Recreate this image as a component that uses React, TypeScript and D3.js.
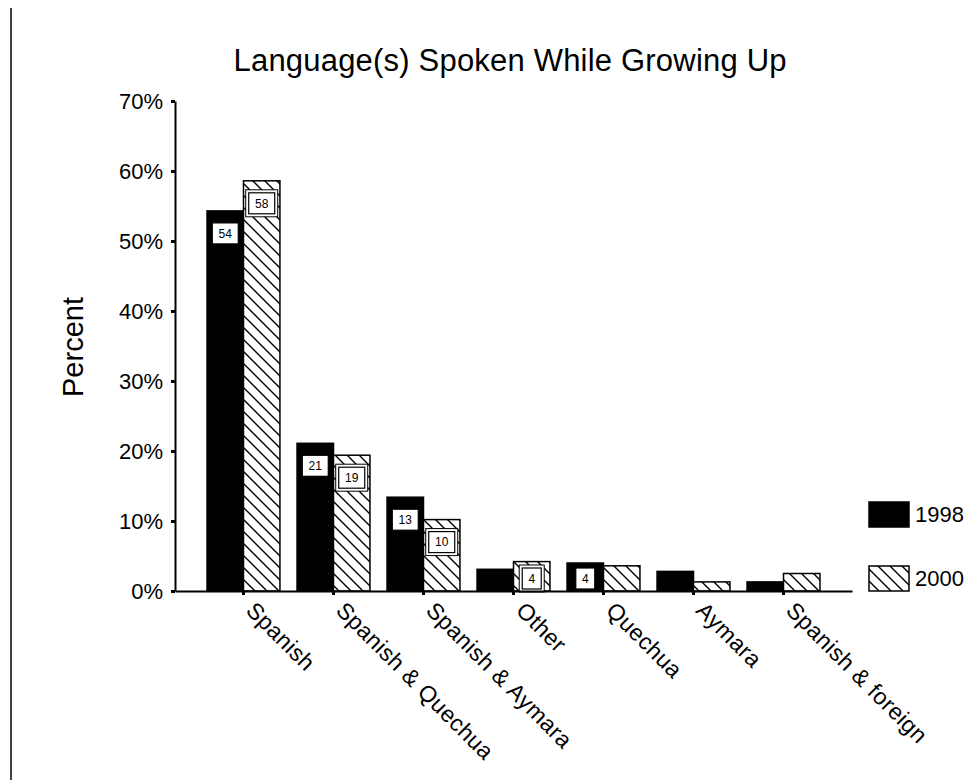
import * as d3 from "d3";
import React, { useRef, useEffect } from "react";

const categories = [
  "Spanish",
  "Spanish & Quechua",
  "Spanish & Aymara",
  "Other",
  "Quechua",
  "Aymara",
  "Spanish & foreign",
];
const years = ["1998", "2000"];
const values1998 = [54.3, 21.1, 13.4, 3.1, 4.0, 2.8, 1.3];
const values2000 = [58.6, 19.4, 10.2, 4.2, 3.6, 1.3, 2.5];
const labels1998 = ["54", "21", "13", "", "4", "", ""];
const labels2000 = ["58", "19", "10", "4", "", "", ""];
const yTicks = [0, 10, 20, 30, 40, 50, 60, 70];

const WIDTH = 974;
const HEIGHT = 780;
const FONT = "'Liberation Sans', Arial, sans-serif";

interface BarDatum {
  category: string;
  year: string;
  value: number;
  label: string;
}

const App = () => {
  const svgRef = useRef<SVGSVGElement>(null);

  useEffect(() => {
    draw();
  }, []);

  const draw = () => {
    if (svgRef.current === null) return;
    const svg = d3.select(svgRef.current);
    svg.selectAll("*").remove();

    const x = d3
      .scaleBand()
      .domain(categories)
      .range([175, 852])
      .paddingInner(0.19)
      .paddingOuter(0.356);
    const xSub = d3.scaleBand().domain(years).range([0, x.bandwidth()]);
    const y = d3.scaleLinear().domain([0, 70]).range([591, 101]);

    // hatch pattern
    const defs = svg.append("defs");
    const pat = defs
      .append("pattern")
      .attr("id", "hatch")
      .attr("patternUnits", "userSpaceOnUse")
      .attr("width", 12)
      .attr("height", 12);
    pat.append("rect").attr("width", 12).attr("height", 12).attr("fill", "white");
    pat
      .append("path")
      .attr("d", "M-3,-3 L15,15 M-3,9 L3,15 M9,-3 L15,3")
      .attr("stroke", "black")
      .attr("stroke-width", 1.4);

    // page border line at left
    svg
      .append("line")
      .attr("x1", 11)
      .attr("x2", 11)
      .attr("y1", 8)
      .attr("y2", HEIGHT)
      .attr("stroke", "black")
      .attr("stroke-width", 1.5);

    // title
    svg
      .append("text")
      .attr("x", 510)
      .attr("y", 71)
      .attr("text-anchor", "middle")
      .attr("font-family", FONT)
      .attr("font-size", 31)
      .attr("textLength", 553)
      .text("Language(s) Spoken While Growing Up");

    // y label
    svg
      .append("text")
      .attr("transform", "translate(83,347) rotate(-90)")
      .attr("text-anchor", "middle")
      .attr("font-family", FONT)
      .attr("font-size", 29)
      .text("Percent");

    const data: BarDatum[] = [];
    categories.forEach((c, i) => {
      data.push({ category: c, year: "1998", value: values1998[i], label: labels1998[i] });
      data.push({ category: c, year: "2000", value: values2000[i], label: labels2000[i] });
    });

    const bars = svg.append("g");
    bars
      .selectAll(".bar")
      .data(data)
      .enter()
      .append("rect")
      .attr("class", "bar")
      .attr("x", (d) => x(d.category)! + xSub(d.year)!)
      .attr("y", (d) => y(d.value))
      .attr("width", xSub.bandwidth())
      .attr("height", (d) => y(0) - y(d.value))
      .attr("fill", (d) => (d.year === "1998" ? "black" : "url(#hatch)"))
      .attr("stroke", "black")
      .attr("stroke-width", 1.5);

    // value boxes
    const labelled = data.filter((d) => d.label !== "");
    const boxes = svg.append("g");
    labelled.forEach((d) => {
      const bx0 = x(d.category)! + xSub(d.year)!;
      const bw = xSub.bandwidth();
      const cx = bx0 + bw / 2;
      const w = 12 + 7 * d.label.length;
      const h = 21;
      const top = Math.min(y(d.value) + 12, y(0) - h - 2);
      if (d.year === "2000") {
        const ox0 = Math.max(bx0 + 1.5, cx - w / 2 - 3);
        const ox1 = Math.min(bx0 + bw - 1.5, cx + w / 2 + 3);
        boxes
          .append("rect")
          .attr("x", ox0)
          .attr("y", top - 3)
          .attr("width", ox1 - ox0)
          .attr("height", h + 6)
          .attr("fill", "white")
          .attr("stroke", "black")
          .attr("stroke-width", 1);
      }
      boxes
        .append("rect")
        .attr("x", cx - w / 2)
        .attr("y", top)
        .attr("width", w)
        .attr("height", h)
        .attr("fill", "white")
        .attr("stroke", "black")
        .attr("stroke-width", 1.2);
      boxes
        .append("text")
        .attr("x", cx)
        .attr("y", top + h / 2)
        .attr("dy", "0.36em")
        .attr("text-anchor", "middle")
        .attr("font-family", FONT)
        .attr("font-size", 12)
        .text(d.label);
    });

    // y axis
    const yAxis = svg
      .append("g")
      .attr("transform", "translate(175,0)")
      .call(
        d3
          .axisLeft(y)
          .tickValues(yTicks)
          .tickFormat((d) => `${d}%`)
          .tickSize(4)
          .tickSizeOuter(0)
          .tickPadding(8)
      );
    yAxis.select(".domain").attr("stroke-width", 2);
    yAxis.selectAll(".tick line").attr("stroke-width", 3);
    yAxis
      .selectAll(".tick text")
      .attr("font-family", FONT)
      .attr("font-size", 22)
      .attr("fill", "black");

    // x axis
    const xAxis = svg
      .append("g")
      .attr("transform", `translate(0,${y(0)})`)
      .call(d3.axisBottom(x).tickSize(4).tickSizeOuter(0).tickFormat(() => ""));
    xAxis.select(".domain").attr("stroke-width", 2);
    xAxis.selectAll(".tick line").attr("stroke-width", 3);

    svg
      .append("g")
      .selectAll(".xlabel")
      .data(categories)
      .enter()
      .append("text")
      .attr("class", "xlabel")
      .attr("transform", (d) => `translate(${x(d)! + x.bandwidth() / 2 + 14},599) rotate(45)`)
      .attr("dy", "0.78em")
      .attr("font-family", FONT)
      .attr("font-size", 23)
      .attr("letter-spacing", 0.4)
      .text((d) => d);

    // legend
    const legendRows = [
      { year: "1998", y: 502 },
      { year: "2000", y: 566 },
    ];
    const legend = svg.append("g");
    legendRows.forEach((r) => {
      legend
        .append("rect")
        .attr("x", 869)
        .attr("y", r.y)
        .attr("width", 40)
        .attr("height", 25)
        .attr("fill", r.year === "1998" ? "black" : "url(#hatch)")
        .attr("stroke", "black")
        .attr("stroke-width", 1.5);
      legend
        .append("text")
        .attr("x", 915)
        .attr("y", r.y + 12.5)
        .attr("dy", "0.36em")
        .attr("font-family", FONT)
        .attr("font-size", 22)
        .text(r.year);
    });
  };

  return (
    <div style={{ position: "absolute", left: 0, top: 0 }}>
      <svg ref={svgRef} width={WIDTH} height={HEIGHT} style={{ display: "block", background: "white" }}></svg>
    </div>
  );
};

export default App;
